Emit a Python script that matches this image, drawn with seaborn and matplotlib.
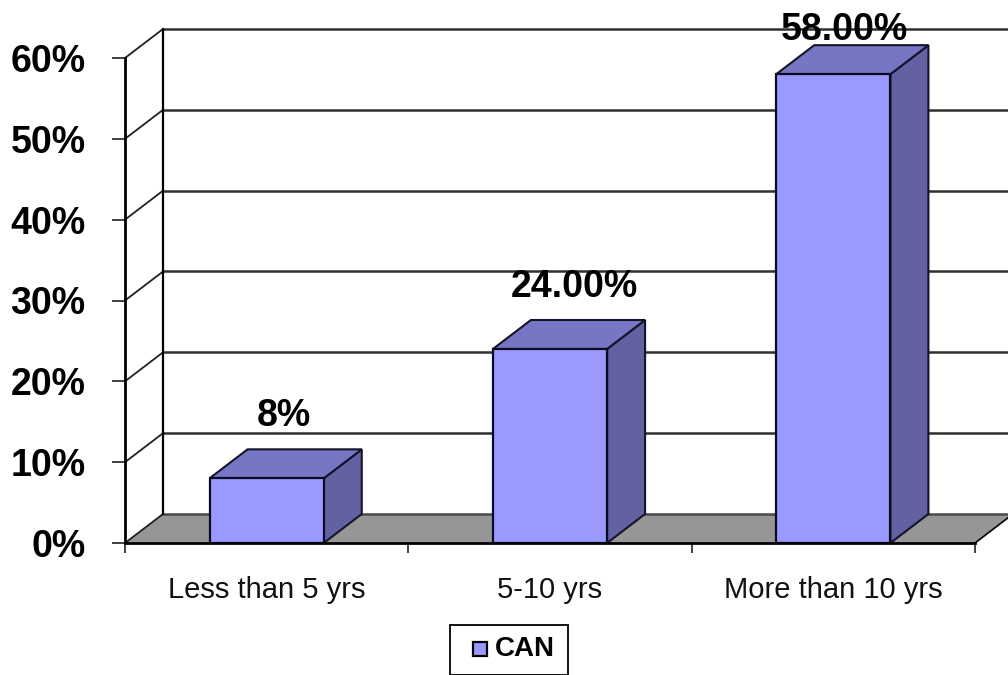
import matplotlib
matplotlib.use("Agg")
import matplotlib.pyplot as plt
from matplotlib.patches import Polygon, Rectangle
import pandas as pd
import seaborn as sns

categories = ["Less than 5 yrs", "5-10 yrs", "More than 10 yrs"]
values = [8, 24, 58]
value_labels = ["8%", "24.00%", "58.00%"]
y_ticks = [0, 10, 20, 30, 40, 50, 60]
series_name = "CAN"

W, H = 1008, 675
L, R, T, B = 125, 975, 58, 543
PX_X = 3 / (R - L)
PX_Y = 60 / (B - T)
DEPTH_X = 38 * PX_X
DEPTH_Y = 29 * PX_Y

sns.set_theme(style="white")
plt.rcParams["font.family"] = ["Liberation Sans", "DejaVu Sans"]
plt.rcParams["text.color"] = "black"

fig = plt.figure(figsize=(W / 100, H / 100), dpi=100, facecolor="white")
ax = fig.add_axes([L / W, 1 - B / H, (R - L) / W, (B - T) / H])

df = pd.DataFrame({"category": categories, "value": values})
sns.barplot(data=df, x="category", y="value", ax=ax, width=0.403, color="#9999ff",
            saturation=1, edgecolor="#0a0a20", linewidth=1.6, zorder=5)
ax.set_xlim(-0.5, 2.5)
ax.set_ylim(0, 60)
ax.patch.set_alpha(0)
ax.set_xlabel("")
ax.set_ylabel("")


def poly(points, **kw):
    patch = Polygon(points, closed=True, clip_on=False, **kw)
    ax.add_patch(patch)
    return patch


x0, x1 = -0.5, 2.5
# Floor and back wall of the 3D frame
poly([(x0, 0), (x1, 0), (x1 + DEPTH_X, DEPTH_Y), (x0 + DEPTH_X, DEPTH_Y)],
     facecolor="#969696", edgecolor="none", zorder=1)
ax.plot([x0 + DEPTH_X, x1 + DEPTH_X], [DEPTH_Y, DEPTH_Y], color="#4a4a4a", lw=1.8,
        clip_on=False, zorder=2)
ax.plot([x1, x1 + DEPTH_X], [0, DEPTH_Y], color="black", lw=1.2, clip_on=False, zorder=2)
for t in y_ticks:
    if t > 0:
        ax.plot([x0 + DEPTH_X, x1 + DEPTH_X], [t + DEPTH_Y, t + DEPTH_Y], color="#303030",
                lw=1.8, clip_on=False, zorder=2)
    ax.plot([x0, x0 + DEPTH_X], [t, t + DEPTH_Y], color="#202020", lw=1.3,
            clip_on=False, zorder=2)
ax.plot([x0 + DEPTH_X] * 2, [DEPTH_Y, 60 + DEPTH_Y], color="black", lw=1.6,
        clip_on=False, zorder=2)

# Top and side faces of each bar, with the value above
half = 0.403 / 2
label_shift_x = [17, 24, 11]
label_gap_y = [33, 33, 15]
for i, v in enumerate(values):
    a, b = i - half, i + half
    poly([(b, 0), (b + DEPTH_X, DEPTH_Y), (b + DEPTH_X, v + DEPTH_Y), (b, v)],
         facecolor="#6262a3", edgecolor="#14142a", linewidth=1.5, zorder=4)
    poly([(a, v), (b, v), (b + DEPTH_X, v + DEPTH_Y), (a + DEPTH_X, v + DEPTH_Y)],
         facecolor="#7676c4", edgecolor="#14142a", linewidth=1.5, zorder=4)
    ax.text(i + label_shift_x[i] * PX_X, v + DEPTH_Y + label_gap_y[i] * PX_Y, value_labels[i],
            ha="center", va="center", fontsize=27, fontweight="bold", color="black",
            zorder=7, clip_on=False)

for s in ["top", "right"]:
    ax.spines[s].set_visible(False)
for s in ["left", "bottom"]:
    ax.spines[s].set_visible(True)
    ax.spines[s].set_color("black")
    ax.spines[s].set_zorder(6)
ax.spines["left"].set_linewidth(2.0)
ax.spines["bottom"].set_linewidth(2.0)

ax.set_yticks(y_ticks)
ax.set_yticklabels([f"{t}%" for t in y_ticks], fontsize=27, fontweight="bold", color="black")
ax.tick_params(axis="y", length=9.4, width=1.2, color="#202020", left=True, pad=19)
ax.set_xticks([-0.5, 0.5, 1.5, 2.5], minor=True)
ax.tick_params(axis="x", which="minor", length=7.5, width=1.2, color="#202020", bottom=True)
ax.tick_params(axis="x", which="major", length=0, labelsize=21, pad=24, labelcolor="#111111")

# Legend box under the plot
fig.patches.append(Rectangle((450 / W, 1 - 675 / H), 118 / W, 50 / H, transform=fig.transFigure,
                             facecolor="white", edgecolor="black", linewidth=1.3,
                             clip_on=False))
fig.patches.append(Rectangle((473 / W, 1 - 656 / H), 14 / W, 14 / H, transform=fig.transFigure,
                             facecolor="#9999ff", edgecolor="black", linewidth=1.6))
fig.text(495 / W, 1 - 649 / H, series_name, fontsize=20, fontweight="bold", va="center",
         ha="left", color="black")

fig.savefig("out.png", dpi=100)
